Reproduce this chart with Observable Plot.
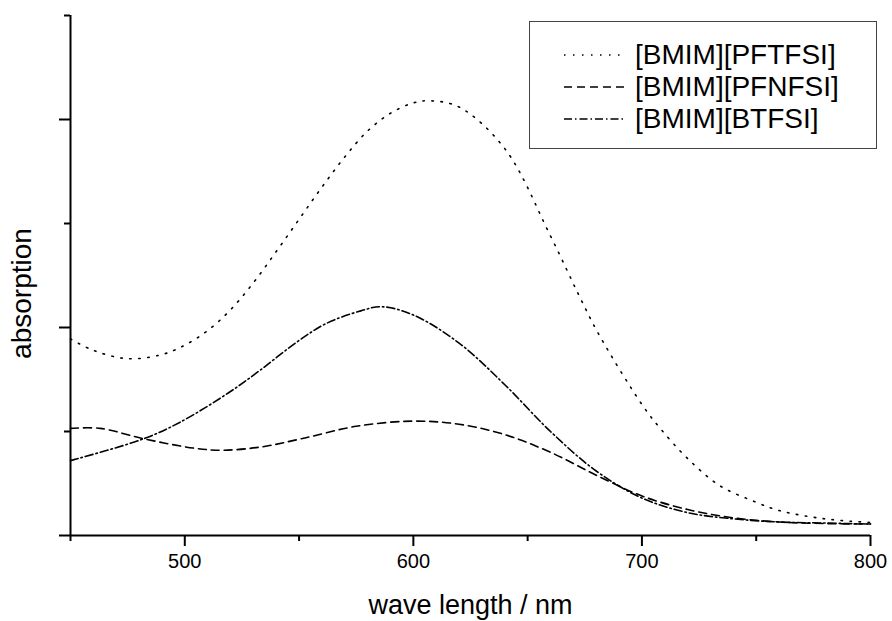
<!DOCTYPE html>
<html><head><meta charset="utf-8">
<script src="https://cdn.jsdelivr.net/npm/d3@7"></script>
<script src="https://cdn.jsdelivr.net/npm/@observablehq/plot@0.6"></script>
<style>
body{margin:0;background:#fff;font-family:"Liberation Sans",Arial,sans-serif;}
#wrap{position:relative;width:892px;height:621px;overflow:hidden;}
#legend{position:absolute;left:529px;top:21px;width:348px;height:128px;border:1px solid #444;box-sizing:border-box;background:#fff;}
.row{position:absolute;left:0;height:32px;display:flex;align-items:center;}
.row svg{margin-left:34px;margin-right:11px;}
.row span{font-size:28px;color:#000;white-space:nowrap;}
</style></head><body><div id="wrap"><div id="legend"></div></div>
<script>
const seriesNames = ["[BMIM][PFTFSI]", "[BMIM][PFNFSI]", "[BMIM][BTFSI]"];
const xTicksMajor = [500, 600, 700, 800];
const xTicksMinor = [450, 550, 650, 750];
const yTicksMajor = [0, 2, 4];
const yTicksMinor = [1, 3, 5];
const xLabel = "wave length / nm";
const yLabel = "absorption";

const wlPFTFSI  = [450,460,475,490,500,510,520,530,540,550,560,570,580,590,600,607,620,640,660,672,681,700,708,720,734,750,760,780,800];
const absPFTFSI = [1.89,1.78,1.70,1.74,1.83,1.97,2.17,2.43,2.73,3.04,3.35,3.64,3.89,4.06,4.16,4.18,4.12,3.72,2.88,2.33,1.94,1.26,1.03,0.74,0.48,0.32,0.24,0.16,0.125];

const wlPFNFSI  = [450,463,482,504,516,533,551,575,600,620,640,660,680,700,720,740,760,780,800];
const absPFNFSI = [1.03,1.03,0.93,0.84,0.82,0.85,0.93,1.05,1.10,1.07,0.97,0.80,0.58,0.38,0.25,0.17,0.13,0.115,0.11];

const wlBTFSI   = [450,482,498,519,533,549,562,577,586,600,620,640,660,680,700,720,740,760,780,800];
const absBTFSI  = [0.72,0.93,1.09,1.37,1.59,1.86,2.04,2.16,2.20,2.12,1.85,1.45,1.00,0.62,0.36,0.22,0.16,0.13,0.12,0.11];

const dashStyles = ["1.5,7.5", "8,5", "8,3,1.5,3"];

const toRows = (wl, ab) => wl.map((w, i) => ({wl: w, a: ab[i]}));
const series = [toRows(wlPFTFSI, absPFTFSI), toRows(wlPFNFSI, absPFNFSI), toRows(wlBTFSI, absBTFSI)];

const chart = Plot.plot({
  width: 892, height: 621,
  marginLeft: 70, marginRight: 22, marginTop: 15, marginBottom: 86,
  x: {domain: [450, 800]},
  y: {domain: [0, 5]},
  style: {fontFamily: "'Liberation Sans', Arial, sans-serif", fontSize: "20px", color: "#000", background: "#fff", overflow: "visible"},
  marks: [
    ...series.map((s, i) => Plot.line(s, {x: "wl", y: "a", curve: "catmull-rom", stroke: "#000", strokeWidth: 1.6, strokeDasharray: dashStyles[i]})),
    Plot.ruleY([0], {stroke: "#000", strokeWidth: 2}),
    Plot.ruleX([450], {stroke: "#000", strokeWidth: 2}),
    Plot.axisX({ticks: xTicksMajor, tickSize: 11, tickPadding: 7, tickFormat: d => String(d), label: null, strokeWidth: 2, fontSize: 20}),
    Plot.axisX({ticks: xTicksMinor, tickSize: 6, tickFormat: () => "", label: null, strokeWidth: 2}),
    Plot.axisY({ticks: yTicksMajor, tickSize: 11, tickFormat: () => "", label: null, strokeWidth: 2}),
    Plot.axisY({ticks: yTicksMinor, tickSize: 6, tickFormat: () => "", label: null, strokeWidth: 2}),
    Plot.text([xLabel], {frameAnchor: "bottom", dy: 70, fontSize: 27, lineAnchor: "middle", fill: "#000"}),
    Plot.text([yLabel], {frameAnchor: "left", dx: -48, dy: 18, rotate: -90, fontSize: 28, lineAnchor: "middle", textAnchor: "middle", fill: "#000"})
  ]
});
const wrap = document.getElementById("wrap");
wrap.insertBefore(chart, wrap.firstChild);

const legend = document.getElementById("legend");
const rowTops = [17, 49, 81];
seriesNames.forEach((name, i) => {
  const row = document.createElement("div");
  row.className = "row";
  row.style.top = rowTops[i] + "px";
  row.innerHTML = `<svg width="60" height="10"><line x1="0" y1="5" x2="60" y2="5" stroke="#000" stroke-width="1.6" stroke-dasharray="${dashStyles[i]}"/></svg><span>${name}</span>`;
  legend.appendChild(row);
});
</script>
</body></html>
